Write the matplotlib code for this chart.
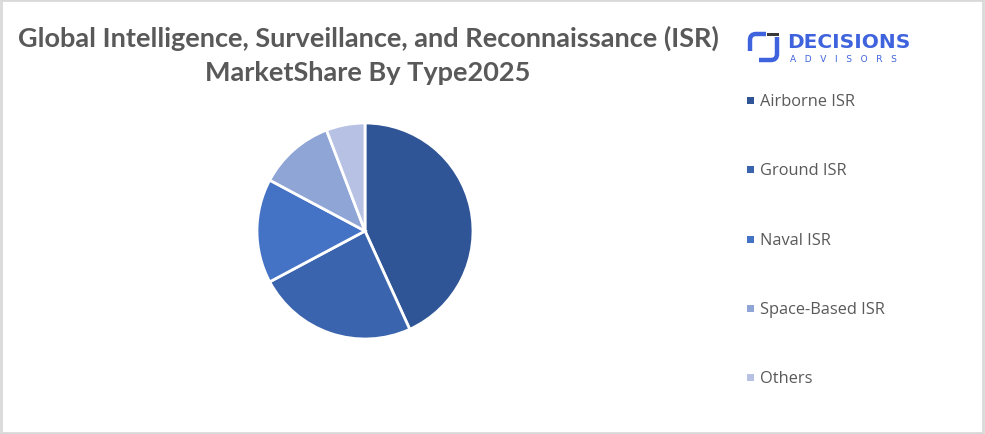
import matplotlib.pyplot as plt
from matplotlib.patches import Rectangle, PathPatch
from matplotlib.path import Path

# data
categories = ["Airborne ISR", "Ground ISR", "Naval ISR", "Space-Based ISR", "Others"]
shares = [43.2, 24.0, 15.6, 11.4, 5.8]
colors = ["#2F5597", "#3A64AD", "#4472C4", "#8FA5D6", "#B7C1E4"]

W, H = 985, 435
fig = plt.figure(figsize=(W / 100, H / 100), dpi=100)
fig.patch.set_facecolor("white")


def fx(x):
    return x / W


def fy(y):
    return 1 - y / H


# light grey border round the whole picture
fig.add_artist(Rectangle((0.001, 0.002), 0.997, 0.995, transform=fig.transFigure,
                         fill=False, edgecolor="#D9D9D9", linewidth=2))

# title
title_lines = ["Global Intelligence, Surveillance, and Reconnaissance (ISR)",
               "MarketShare By Type2025"]
for line, y in zip(title_lines, [38, 73]):
    fig.text(fx(368), fy(y), line, ha="center", va="center", fontsize=19.5,
             fontweight="bold", color="#595959", family="Lato")

# pie, centre (365, 232) px, radius 108 px
cx, cy, r = 365, 232, 108
ax = fig.add_axes([(cx - r) / W, (H - cy - r) / H, 2 * r / W, 2 * r / H])
ax.pie(shares, colors=colors, startangle=90, counterclock=False, radius=1,
       wedgeprops=dict(edgecolor="white", linewidth=2))
ax.set_xlim(-1, 1)
ax.set_ylim(-1, 1)
ax.set_aspect("auto")
ax.axis("off")

# legend
leg_y = [102, 171, 241, 310, 379]
for cat, col, y in zip(categories, colors, leg_y):
    fig.add_artist(Rectangle((fx(747), fy(y + 3)), 7 / W, 7 / H,
                             transform=fig.transFigure, facecolor=col, edgecolor="none"))
    fig.text(fx(760), fy(y), cat, ha="left", va="center", fontsize=11.8,
             color="#595959", family="Open Sans")

# logo
blue = "#3F63DD"
fig.text(fx(787), fy(43), "DECISIONS", ha="left", va="center", fontsize=14.5,
         fontweight="bold", color=blue, family="DejaVu Sans")
fig.text(fx(790), fy(59), "A   D   V   I   S   O   R   S", ha="left", va="center",
         fontsize=6.5, color=blue, family="DejaVu Sans")

lw = 3.2
p1 = Path([(fx(766), fy(35)), (fx(756), fy(35)), (fx(750), fy(35)), (fx(750), fy(41)),
           (fx(750), fy(52))],
          [Path.MOVETO, Path.LINETO, Path.CURVE3, Path.CURVE3, Path.LINETO])
p2 = Path([(fx(777), fy(38)), (fx(777), fy(55)), (fx(777), fy(61)), (fx(771), fy(61)),
           (fx(759), fy(61))],
          [Path.MOVETO, Path.LINETO, Path.CURVE3, Path.CURVE3, Path.LINETO])
for p in (p1, p2):
    fig.add_artist(PathPatch(p, transform=fig.transFigure, fill=False,
                             edgecolor=blue, linewidth=lw, capstyle="butt"))
fig.add_artist(Rectangle((fx(767), fy(36.5)), 12 / W, 3 / H, transform=fig.transFigure,
                         facecolor="#3A3A3A", edgecolor="none"))

fig.savefig("out.png", dpi=100)
